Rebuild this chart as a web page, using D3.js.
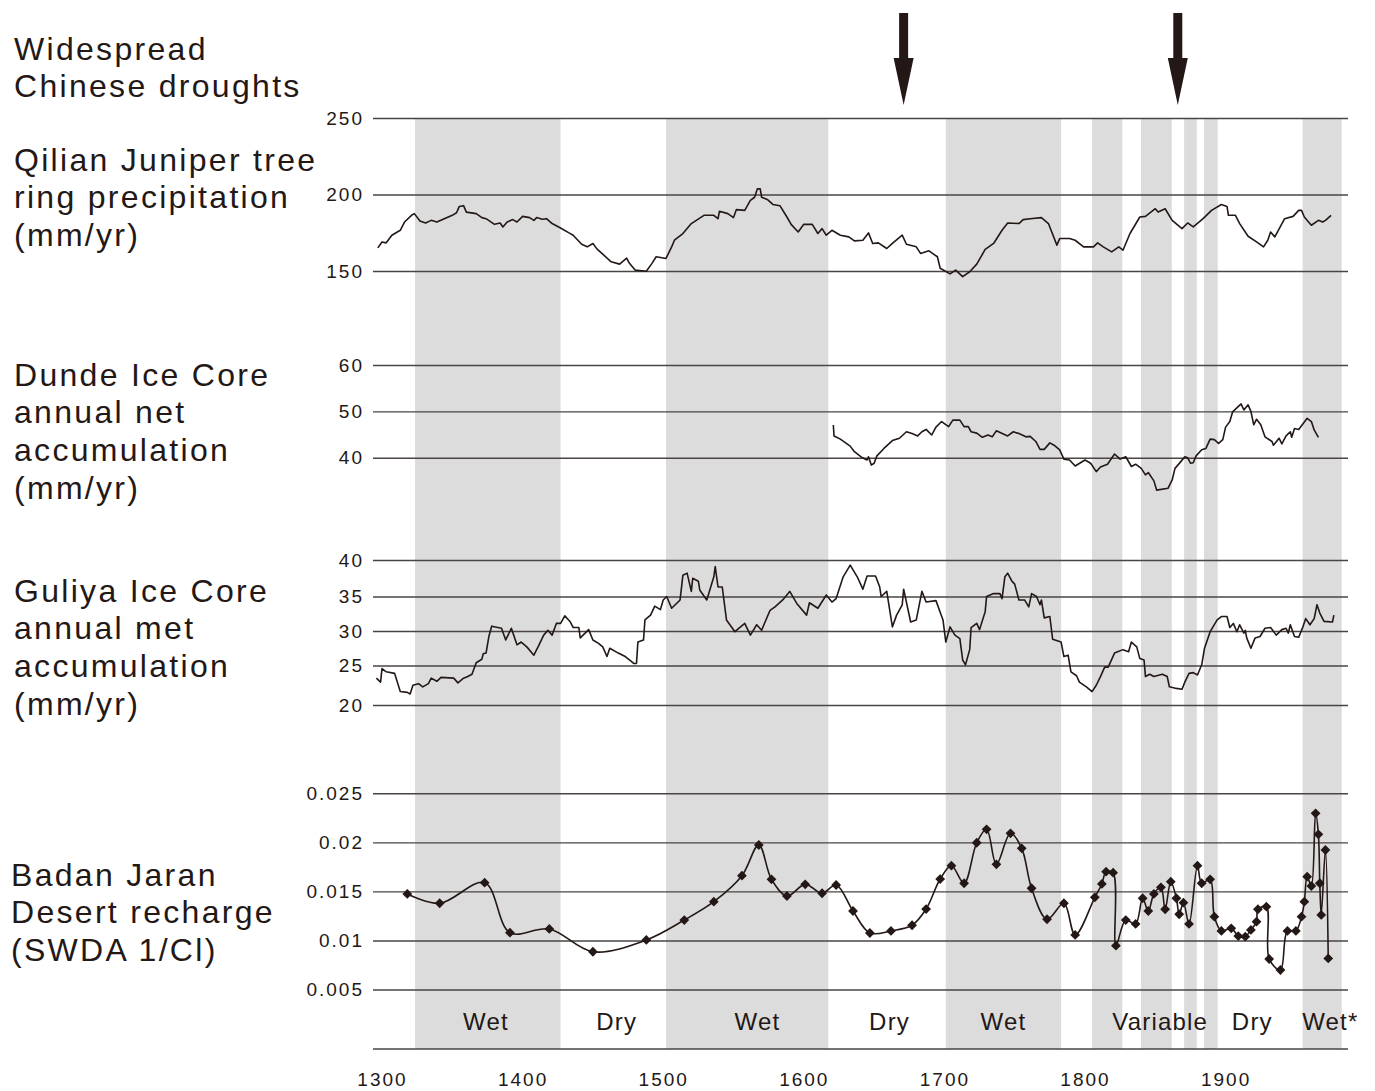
<!DOCTYPE html>
<html>
<head>
<meta charset="utf-8">
<script src="https://cdn.jsdelivr.net/npm/d3@7"></script>
<style>
  html, body { margin: 0; padding: 0; background: #fff; }
  svg { display: block; font-family: 'Liberation Sans', Arial, sans-serif; }
</style>
</head>
<body>
<div id="chart"></div>
<script>
// 数据：读自原图
const droughtYears = [1671, 1866]

const regimeBands = [[1323.5, 1427], [1502, 1617.4], [1701, 1783], [1805, 1826.5],
  [1839.8, 1861.7], [1870.5, 1879.5], [1884.6, 1894.4], [1954.8, 1982.6]]
const regimeNames = ['Wet', 'Dry', 'Wet', 'Dry', 'Wet', 'Variable', 'Dry', 'Wet*']
const regimeCenters = [1374, 1467, 1567, 1661, 1742, 1853.5, 1919, 1974.5]

const yearTicks = [1300, 1400, 1500, 1600, 1700, 1800, 1900]

const droughtLabel = ['Widespread', 'Chinese droughts']
const qilianLabel = ['Qilian Juniper tree', 'ring precipitation', '(mm/yr)']
const dundeLabel = ['Dunde Ice Core', 'annual net', 'accumulation', '(mm/yr)']
const guliyaLabel = ['Guliya Ice Core', 'annual met', 'accumulation', '(mm/yr)']
const badanLabel = ['Badan Jaran', 'Desert recharge', '(SWDA 1/Cl)']

const qilianTicks = [150, 200, 250]
const dundeTicks = [40, 50, 60]
const guliyaTicks = [20, 25, 30, 35, 40]
const badanTicks = [0.005, 0.01, 0.015, 0.02, 0.025]

// [year, mm/yr]
const qilian = [[1297,165.1],[1300,169.0],[1303,168.4],[1307,173.4],[1313,176.6],[1316,182.0],[1321,186.4],[1323,187.5],[1327,182.7],[1331,181.4],[1335,183.1],[1339,182.0],[1350,186.4],[1353,188.1],[1355,192.2],[1358,192.7],[1360,188.5],[1367,187.5],[1371,184.9],[1374,184.2],[1380,180.5],[1384,181.4],[1386,178.8],[1389,182.0],[1393,183.6],[1396,182.0],[1400,185.7],[1405,184.9],[1408,183.1],[1410,184.9],[1414,183.8],[1417,184.2],[1421,181.0],[1427,178.1],[1433,174.9],[1436,173.4],[1442,167.5],[1446,165.8],[1450,168.0],[1453,164.3],[1457,161.0],[1463,156.0],[1469,154.5],[1474,158.4],[1476,155.0],[1480,150.6],[1488,149.8],[1492,155.0],[1495,159.3],[1502,158.2],[1506,165.8],[1508,170.1],[1514,174.5],[1520,181.0],[1529,186.4],[1536,186.4],[1539,184.2],[1540,189.0],[1546,187.5],[1550,184.9],[1552,190.1],[1558,189.6],[1562,196.1],[1565,198.2],[1567,203.7],[1569,203.7],[1570,198.2],[1574,196.8],[1578,193.5],[1583,192.7],[1588,185.3],[1591,180.5],[1596,175.5],[1600,180.5],[1606,180.5],[1610,174.5],[1613,177.7],[1616,173.4],[1620,176.6],[1626,173.4],[1632,172.3],[1636,169.7],[1642,170.1],[1646,174.9],[1649,168.0],[1653,168.4],[1659,164.7],[1663,168.0],[1670,173.4],[1673,167.5],[1680,165.8],[1683,161.5],[1689,163.2],[1695,159.3],[1697,151.8],[1704,148.1],[1708,150.6],[1713,146.3],[1718,149.5],[1723,154.5],[1729,164.1],[1735,168.0],[1741,176.6],[1745,181.4],[1753,181.0],[1756,183.6],[1761,184.2],[1769,184.9],[1774,181.0],[1780,166.9],[1782,171.2],[1789,171.2],[1793,170.1],[1799,165.8],[1806,165.8],[1809,168.4],[1813,165.8],[1819,162.5],[1824,165.8],[1827,163.6],[1832,174.5],[1839,185.3],[1843,185.7],[1850,190.7],[1852,188.5],[1857,190.7],[1862,183.1],[1869,177.7],[1873,181.4],[1877,178.8],[1884,184.2],[1890,189.6],[1897,193.5],[1901,192.2],[1902,186.4],[1907,186.4],[1910,181.0],[1916,172.7],[1922,169.0],[1927,165.8],[1930,170.1],[1932,175.5],[1935,172.3],[1942,184.2],[1948,185.7],[1952,189.6],[1954,189.6],[1956,185.3],[1961,179.9],[1966,183.1],[1969,182.0],[1971,183.1],[1975,186.4]]

const dunde = [[1621,47.05],[1621.5,44.7],[1626,44.0],[1633,42.5],[1636,41.3],[1641,40.1],[1645,39.5],[1646,40.2],[1648,38.4],[1650,38.8],[1652,40.4],[1657,42.0],[1663,43.7],[1668,44.2],[1673,45.6],[1677,45.2],[1681,44.7],[1684,45.6],[1687,46.1],[1691,44.9],[1694,46.6],[1698,47.8],[1703,46.7],[1706,48.1],[1711,48.1],[1714,46.7],[1717,46.7],[1719,45.6],[1723,45.3],[1727,44.4],[1731,44.9],[1734,44.5],[1737,45.8],[1740,45.4],[1745,44.7],[1749,45.6],[1753,45.2],[1758,44.5],[1761,44.6],[1765,43.5],[1768,41.8],[1771,41.8],[1775,43.2],[1778,42.7],[1782,41.7],[1785,39.7],[1789,39.5],[1793,38.2],[1800,39.5],[1804,38.8],[1808,37.0],[1811,38.0],[1816,38.6],[1821,40.8],[1825,39.7],[1829,40.2],[1833,38.1],[1836,38.6],[1840,37.7],[1843,36.3],[1845,36.8],[1849,35.0],[1851,33.0],[1859,33.4],[1862,35.2],[1864,37.7],[1868,39.1],[1871,40.2],[1873,40.0],[1875,38.8],[1877,38.9],[1879,40.4],[1883,41.7],[1886,42.0],[1889,44.0],[1892,43.9],[1895,43.1],[1898,43.9],[1900,46.6],[1903,47.8],[1905,49.9],[1911,51.6],[1913,50.3],[1916,51.4],[1918,50.0],[1920,47.1],[1922,48.3],[1925,47.1],[1928,44.5],[1933,43.5],[1934,42.7],[1938,44.2],[1940,43.0],[1943,44.7],[1946,45.6],[1947,44.4],[1949,46.3],[1952,46.1],[1958,48.5],[1961,47.8],[1963,46.0],[1966,44.4]]

const guliya = [[1296,23.4],[1299,22.9],[1300,24.6],[1303,24.2],[1309,24.0],[1313,21.7],[1318,21.6],[1320,21.4],[1322,22.5],[1326,22.7],[1329,22.3],[1333,22.7],[1335,23.4],[1339,23.0],[1342,23.5],[1351,23.4],[1354,22.8],[1358,23.4],[1361,23.6],[1364,23.9],[1367,25.4],[1371,25.9],[1372,26.7],[1374,26.8],[1376,29.2],[1378,30.7],[1385,30.4],[1388,28.7],[1392,30.4],[1396,28.0],[1399,28.4],[1403,27.7],[1408,26.5],[1411,27.7],[1415,29.4],[1418,30.1],[1421,29.4],[1424,31.1],[1427,31.1],[1430,32.2],[1434,31.3],[1436,30.5],[1440,30.5],[1441,29.0],[1447,30.2],[1450,28.7],[1454,28.2],[1457,27.7],[1460,26.3],[1462,27.5],[1468,26.8],[1473,26.3],[1476,25.8],[1479,25.3],[1481,25.3],[1482,28.4],[1486,28.7],[1487,31.6],[1491,32.3],[1494,33.6],[1498,33.1],[1500,34.5],[1502.5,35.0],[1506,33.3],[1512,34.5],[1514,37.9],[1517,38.2],[1520,35.7],[1521,37.5],[1525,37.1],[1526,35.9],[1531,34.5],[1536,37.7],[1537,39.1],[1539,36.3],[1542,36.3],[1545,31.6],[1551,29.9],[1555,30.6],[1558,31.1],[1562,29.4],[1566.5,30.9],[1570,30.1],[1576,33.0],[1579.5,33.5],[1585,34.5],[1590,35.7],[1595,34.0],[1602,32.3],[1604,34.1],[1610,33.3],[1616,35.2],[1620,34.2],[1623,34.7],[1628,37.7],[1633,39.3],[1638,37.7],[1642,36.0],[1645,37.8],[1651,37.8],[1654,36.3],[1655,35.0],[1659,35.7],[1663,30.6],[1666,32.3],[1670,33.8],[1671,36.0],[1676,31.3],[1680,31.6],[1684,35.7],[1687,34.2],[1694,34.4],[1699,31.6],[1701,28.4],[1704,30.6],[1707.5,29.4],[1711,28.9],[1713,25.8],[1715,25.1],[1718,27.3],[1719,30.5],[1723,31.1],[1725,30.2],[1729,32.8],[1730,35.0],[1735,35.4],[1739.5,35.4],[1741,34.7],[1743,37.7],[1745,38.2],[1748,37.1],[1750,36.7],[1753,34.5],[1757,34.5],[1760,33.5],[1762,35.4],[1765.5,35.0],[1768,33.8],[1769,34.5],[1771,31.9],[1775,32.1],[1777,28.8],[1783,28.4],[1785,26.3],[1788,26.5],[1790,24.2],[1794,23.7],[1796,22.9],[1801,22.3],[1805,21.7],[1808,22.5],[1811,23.6],[1814,24.8],[1816.5,24.8],[1821,26.8],[1827,27.3],[1831,27.0],[1833,28.4],[1836.8,27.7],[1839,26.0],[1842,25.8],[1843,23.6],[1846,23.9],[1849,23.6],[1855,23.9],[1858.5,23.6],[1860,22.3],[1865,22.1],[1869,22.0],[1871,22.9],[1874,24.0],[1877,24.1],[1880,23.8],[1883,25.1],[1885,27.5],[1889,29.9],[1894,31.6],[1897,32.1],[1901,32.1],[1903,30.5],[1905.5,31.1],[1908,29.9],[1910,30.9],[1913,29.7],[1914,30.1],[1915,29.0],[1918,27.5],[1921,29.0],[1924.5,29.2],[1928,30.4],[1932,30.5],[1936,29.4],[1940,30.2],[1943,30.4],[1944.6,29.7],[1946,30.9],[1949,29.2],[1952,29.1],[1955,30.6],[1957,31.8],[1960,30.9],[1963,31.8],[1965,33.8],[1967,32.6],[1970,31.4],[1976,31.3],[1977,32.3]]

// [year, 1/Cl]
const badan = [[1318,0.01474],[1341,0.01379],[1373,0.01589],[1391,0.01079],[1419,0.01117],[1450,0.00885],[1488,0.01005],[1515,0.01208],[1536,0.01395],[1556,0.0166],[1568,0.01973],[1577,0.01623],[1588,0.01453],[1601,0.01572],[1613,0.01481],[1623,0.01565],[1635,0.013],[1647,0.01076],[1662,0.01097],[1677,0.01155],[1687,0.0132],[1697,0.01626],[1705,0.01762],[1714,0.01583],[1723,0.01996],[1730,0.02133],[1737,0.01776],[1747,0.02092],[1755,0.01939],[1762,0.01532],[1773,0.01216],[1785,0.01379],[1793,0.01056],[1807,0.0144],[1812,0.01576],[1815,0.01701],[1820,0.01691],[1822,0.00947],[1829,0.01208],[1836,0.01168],[1841,0.0143],[1845,0.013],[1849,0.01474],[1854,0.01542],[1857,0.01318],[1861,0.01599],[1865,0.0143],[1867,0.01267],[1870,0.01385],[1874,0.01168],[1880,0.01762],[1883,0.01583],[1889,0.01623],[1892,0.01242],[1897,0.01097],[1904,0.01124],[1909,0.01045],[1914,0.01038],[1918,0.01107],[1922,0.01191],[1923,0.01318],[1929,0.01344],[1931,0.00811],[1939,0.00699],[1944,0.01097],[1950,0.01097],[1954,0.01242],[1956,0.01395],[1958,0.0165],[1961,0.01555],[1964,0.02296],[1966,0.02082],[1967,0.01583],[1968,0.0126],[1971,0.01922],[1973,0.00817]]

const INK = '#231815'
const width = 1375
const height = 1091
const gridLeft = 373
const gridRight = 1348
const bandTop = 118
const axisY = 1049

const x = d3.scaleLinear().domain([1300, 1900]).range([382, 1225.6])

const svg = d3.select('#chart').append('svg')
  .attr('width', width)
  .attr('height', height)

// 灰色区间
svg.append('g').selectAll('rect')
  .data(regimeBands)
  .join('rect')
  .attr('x', d => x(d[0]))
  .attr('width', d => x(d[1]) - x(d[0]))
  .attr('y', bandTop)
  .attr('height', axisY - bandTop)
  .attr('fill', '#dcdcdc')

const panels = [
  { data: qilian, ticks: qilianTicks, fmt: d3.format('d'),
    y: d3.scaleLinear().domain([150, 250]).range([271, 118]) },
  { data: dunde, ticks: dundeTicks, fmt: d3.format('d'),
    y: d3.scaleLinear().domain([40, 60]).range([457.7, 365]) },
  { data: guliya, ticks: guliyaTicks, fmt: d3.format('d'),
    y: d3.scaleLinear().domain([20, 25, 30, 35, 40]).range([705, 665.5, 631, 596.5, 560]) },
  { data: badan, ticks: badanTicks, fmt: d => String(+d.toFixed(3)), markers: true,
    y: d3.scaleLinear().domain([0.005, 0.025]).range([989.5, 793.3]) }
]

panels.forEach(p => {
  // 网格线 + 刻度
  const ax = svg.append('g')
    .attr('transform', `translate(${gridLeft},0)`)
    .call(d3.axisLeft(p.y).tickValues(p.ticks).tickFormat(p.fmt)
      .tickSize(-(gridRight - gridLeft)).tickPadding(9))
  ax.select('.domain').remove()
  ax.selectAll('line').attr('stroke', '#4a4443').attr('stroke-width', 1.4)
  ax.selectAll('text')
    .attr('fill', INK)
    .style('font-size', '19px')
    .style('letter-spacing', '2px')

  const line = d3.line()
    .x(d => x(d[0]))
    .y(d => p.y(d[1]))
    .curve(p.markers ? d3.curveCatmullRom : d3.curveLinear)

  svg.append('path')
    .datum(p.data)
    .attr('d', line)
    .attr('fill', 'none')
    .attr('stroke', INK)
    .attr('stroke-width', 1.6)
    .attr('stroke-linejoin', 'round')

  if (p.markers) {
    svg.append('g').selectAll('path')
      .data(p.data)
      .join('path')
      .attr('d', d3.symbol(d3.symbolSquare, 48))
      .attr('transform', d => `translate(${x(d[0])},${p.y(d[1])}) rotate(45)`)
      .attr('fill', INK)
  }
})

// 底部年份轴
svg.append('line')
  .attr('x1', gridLeft).attr('x2', gridRight)
  .attr('y1', axisY).attr('y2', axisY)
  .attr('stroke', '#4a4443').attr('stroke-width', 1.4)

const xa = svg.append('g')
  .attr('transform', `translate(0,${axisY})`)
  .call(d3.axisBottom(x).tickValues(yearTicks).tickFormat(d3.format('d')).tickSize(0).tickPadding(24))
xa.select('.domain').remove()
xa.selectAll('text')
  .attr('fill', INK)
  .style('font-size', '19px')
  .style('letter-spacing', '2px')

// Wet / Dry 标签
svg.append('g').selectAll('text')
  .data(regimeNames)
  .join('text')
  .attr('x', (d, i) => x(regimeCenters[i]))
  .attr('y', 1030)
  .attr('text-anchor', 'middle')
  .attr('fill', INK)
  .style('font-size', '24px')
  .style('letter-spacing', '1.2px')
  .text(d => d)

// 干旱箭头
svg.append('g').selectAll('path')
  .data(droughtYears)
  .join('path')
  .attr('d', d => {
    const cx = x(d)
    return `M${cx - 4.5},13H${cx + 4.5}V58H${cx + 10}L${cx},105L${cx - 10},58H${cx - 4.5}Z`
  })
  .attr('fill', INK)

// 左侧说明文字
const blocks = [
  { lines: droughtLabel, left: 14, top: 48 },
  { lines: qilianLabel, left: 14, top: 159 },
  { lines: dundeLabel, left: 14, top: 374 },
  { lines: guliyaLabel, left: 14, top: 590 },
  { lines: badanLabel, left: 11, top: 874 }
]
blocks.forEach(b => {
  svg.append('g').selectAll('text')
    .data(b.lines)
    .join('text')
    .attr('x', b.left)
    .attr('y', (d, i) => b.top + i * 37.8 + 11.5)
    .attr('fill', INK)
    .style('font-size', '32px')
    .style('letter-spacing', '2.3px')
    .text(d => d)
})
</script>
</body>
</html>
